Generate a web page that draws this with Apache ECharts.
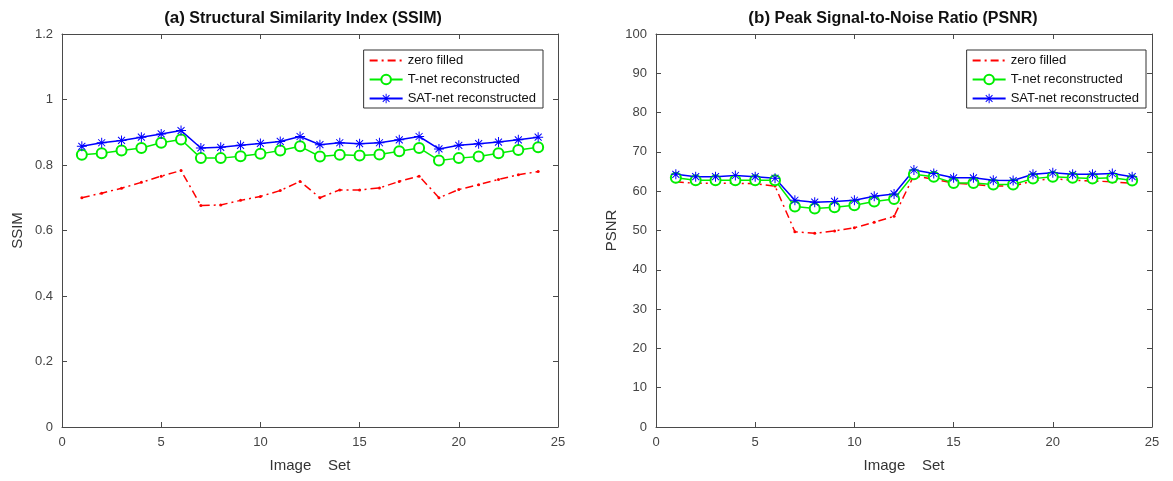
<!DOCTYPE html>
<html>
<head>
<meta charset="utf-8">
<title>SSIM / PSNR</title>
<script src="https://cdn.jsdelivr.net/npm/echarts@6/dist/echarts.min.js"></script>
<style>
	html, body { margin: 0; padding: 0; background: #fff; }
	#chart_content { width: 1173px; height: 481px; }
</style>
</head>
<body>
<div id="chart_content"></div>
<script>
// data
var image_set = [1, 2, 3, 4, 5, 6, 7, 8, 9, 10, 11, 12, 13, 14, 15, 16, 17, 18, 19, 20, 21, 22, 23, 24];
var series_names = ["zero filled", "T-net reconstructed", "SAT-net reconstructed"];
var ssim_zero = [0.700, 0.714, 0.729, 0.747, 0.766, 0.783, 0.676, 0.678, 0.692, 0.704, 0.722, 0.750,
	0.700, 0.724, 0.724, 0.730, 0.750, 0.766, 0.700, 0.725, 0.740, 0.756, 0.770, 0.780];
var ssim_tnet = [0.831, 0.836, 0.844, 0.852, 0.868, 0.878, 0.821, 0.821, 0.827, 0.834, 0.844, 0.857,
	0.826, 0.831, 0.829, 0.832, 0.842, 0.852, 0.814, 0.821, 0.826, 0.836, 0.846, 0.854];
var ssim_sat = [0.857, 0.868, 0.875, 0.885, 0.895, 0.905, 0.852, 0.854, 0.860, 0.866, 0.872, 0.887,
	0.862, 0.868, 0.865, 0.868, 0.877, 0.887, 0.849, 0.860, 0.865, 0.870, 0.877, 0.885];
var psnr_zero = [62.4, 62.0, 62.0, 62.0, 61.9, 61.3, 49.7, 49.3, 49.9, 50.7, 52.1, 53.6,
	64.0, 63.0, 62.1, 61.7, 61.3, 61.3, 62.6, 63.2, 62.8, 62.6, 62.4, 62.0];
var psnr_tnet = [63.4, 62.8, 62.8, 62.8, 62.8, 62.8, 56.1, 55.6, 55.9, 56.4, 57.4, 58.0,
	64.3, 63.7, 62.1, 62.1, 61.7, 61.7, 63.2, 63.7, 63.4, 63.2, 63.4, 62.7];
var psnr_sat = [64.3, 63.7, 63.7, 64.0, 63.7, 63.3, 57.7, 57.2, 57.4, 57.7, 58.7, 59.3,
	65.4, 64.5, 63.4, 63.4, 62.8, 62.7, 64.3, 64.7, 64.3, 64.3, 64.5, 63.7];

var font_name = "Liberation Sans, Arial, sans-serif";
var axis_color = "#4a4a4a";
var asterisk_path = "path://M-0.5,-5L0.5,-5L0.5,5L-0.5,5Z" +
	"M-5,-0.5L5,-0.5L5,0.5L-5,0.5Z" +
	"M-3.15,-3.85L3.85,3.15L3.15,3.85L-3.85,-3.15Z" +
	"M-3.85,3.15L3.15,-3.85L3.85,-3.15L-3.15,3.85Z";

function to_pairs(values){
	var pairs = [];
	for(var i = 0; i < image_set.length; i++){
		pairs.push([image_set[i], values[i]]);
	}
	return pairs;
}

//x axis (bottom with labels, top only ticks)
function make_x_axis(grid_index, at_top){
	return {
		type: "value",
		gridIndex: grid_index,
		position: at_top ? "top" : "bottom",
		min: 0, max: 25, interval: 5,
		name: at_top ? "" : "Image    Set",
		nameLocation: "middle",
		nameGap: 31,
		nameTextStyle: { fontFamily: font_name, fontSize: 15, color: "#333" },
		axisLine: { show: true, onZero: false, lineStyle: { color: axis_color, width: 1 } },
		axisTick: { show: true, inside: true, length: 5, lineStyle: { color: axis_color } },
		axisLabel: { show: !at_top, margin: 9, fontFamily: font_name, fontSize: 13, color: "#444" },
		splitLine: { show: false }
	};
}

function make_y_axis(grid_index, at_right, max, interval, name){
	return {
		type: "value",
		gridIndex: grid_index,
		position: at_right ? "right" : "left",
		min: 0, max: max, interval: interval,
		name: at_right ? "" : name,
		nameLocation: "middle",
		nameGap: 37,
		nameTextStyle: { fontFamily: font_name, fontSize: 15, color: "#333" },
		axisLine: { show: true, onZero: false, lineStyle: { color: axis_color, width: 1 } },
		axisTick: { show: true, inside: true, length: 5, lineStyle: { color: axis_color } },
		axisLabel: { show: !at_right, margin: 9, fontFamily: font_name, fontSize: 13, color: "#444" },
		splitLine: { show: false }
	};
}

function make_series(axis_index, zero_data, tnet_data, sat_data){
	return [{
		name: series_names[0],
		type: "line",
		xAxisIndex: axis_index, yAxisIndex: axis_index,
		data: to_pairs(zero_data),
		symbol: "circle", symbolSize: 3,
		itemStyle: { color: "#ff0000" },
		lineStyle: { color: "#ff0000", width: 1.5, type: [8, 4, 2, 4] },
		animation: false
	}, {
		name: series_names[1],
		type: "line",
		xAxisIndex: axis_index, yAxisIndex: axis_index,
		data: to_pairs(tnet_data),
		symbol: "emptyCircle", symbolSize: 10,
		itemStyle: { color: "#00ee00", borderColor: "#00ee00", borderWidth: 1.3 },
		lineStyle: { color: "#00ee00", width: 1.5 },
		animation: false
	}, {
		name: series_names[2],
		type: "line",
		xAxisIndex: axis_index, yAxisIndex: axis_index,
		data: to_pairs(sat_data),
		symbol: asterisk_path, symbolSize: 10,
		itemStyle: { color: "#0000ff" },
		lineStyle: { color: "#0000ff", width: 1.5 },
		animation: false
	}];
}

function make_legend(right_px){
	return {
		orient: "vertical",
		right: right_px, top: 50,
		data: [
			{ name: series_names[0], itemStyle: { opacity: 0 } },
			{ name: series_names[1] },
			{ name: series_names[2] }
		],
		itemWidth: 33, itemHeight: 12, itemGap: 6,
		padding: [4, 7, 3, 5],
		borderColor: "#333", borderWidth: 1,
		backgroundColor: "#fff",
		textStyle: { fontFamily: font_name, fontSize: 13, color: "#111" }
	};
}

function make_title(tag, text, center_x){
	return {
		text: "{tag|" + tag + "} " + text,
		left: center_x, top: 5,
		textAlign: "center",
		textStyle: {
			fontFamily: font_name, fontSize: 16, fontWeight: "bold", color: "#111",
			rich: { tag: { fontFamily: font_name, fontSize: 17, fontWeight: "bold", color: "#111" } }
		}
	};
}

var chart = echarts.init(document.getElementById("chart_content"), null, { renderer: "canvas" });
var option = {
	backgroundColor: "#fff",
	animation: false,
	title: [
		make_title("(a)", "Structural Similarity Index (SSIM)", 298),
		make_title("(b)", "Peak Signal-to-Noise Ratio (PSNR)", 888)
	],
	legend: [make_legend(630), make_legend(27)],
	grid: [
		{ left: 62, top: 34, width: 496, height: 393 },
		{ left: 656, top: 34, width: 496, height: 393 }
	],
	xAxis: [make_x_axis(0, false), make_x_axis(1, false), make_x_axis(0, true), make_x_axis(1, true)],
	yAxis: [
		make_y_axis(0, false, 1.2, 0.2, "SSIM"),
		make_y_axis(1, false, 100, 10, "PSNR"),
		make_y_axis(0, true, 1.2, 0.2, ""),
		make_y_axis(1, true, 100, 10, "")
	],
	series: [].concat(
		make_series(0, ssim_zero, ssim_tnet, ssim_sat),
		make_series(1, psnr_zero, psnr_tnet, psnr_sat)
	)
};
chart.setOption(option);
</script>
</body>
</html>
